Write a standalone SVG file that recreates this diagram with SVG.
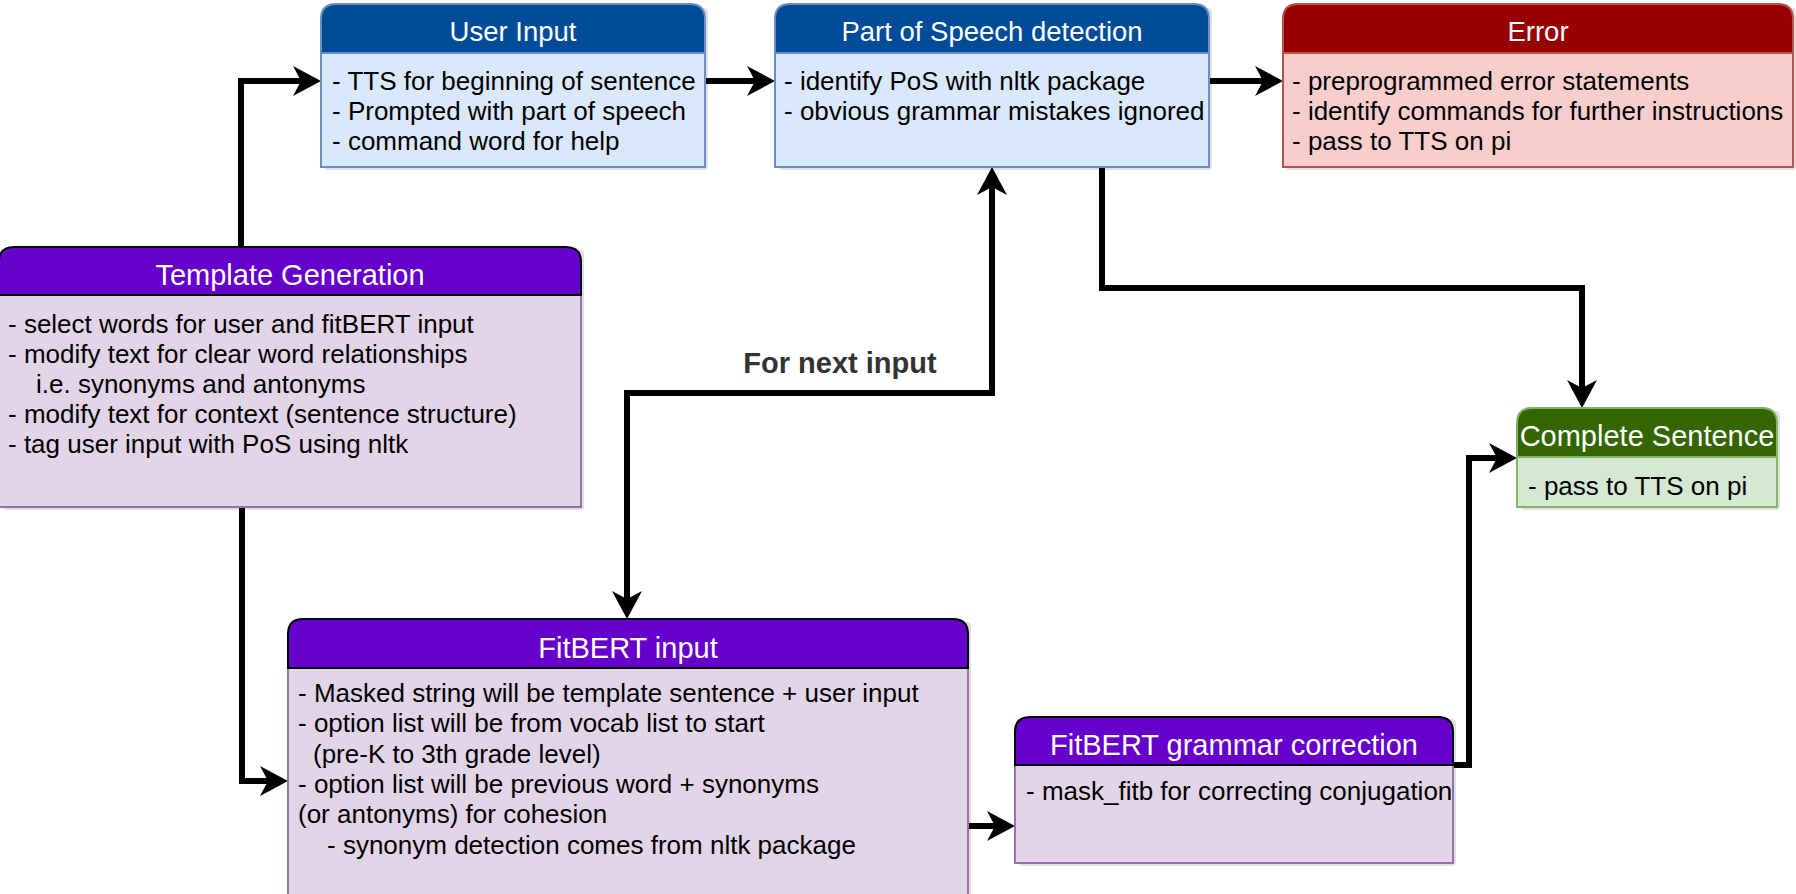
<svg xmlns="http://www.w3.org/2000/svg" width="1796" height="894" viewBox="0 0 1796 894">
<style>
text{font-family:"Liberation Sans",Arial,Helvetica,sans-serif}
.title{font-size:27.5px;fill:#fff;text-anchor:middle}
.title2{font-size:29px;fill:#fff;text-anchor:middle}
.body{font-size:26px;fill:#000}
.lbl{font-size:29px;font-weight:bold;fill:#333;text-anchor:middle}
.shadow{fill:#000;opacity:0.12}
.blueH{fill:#004C99;stroke:#6c8ebf;stroke-width:2}
.blueB{fill:#dae8fc;stroke:#6c8ebf;stroke-width:2}
.redH{fill:#990000;stroke:#b85450;stroke-width:2}
.redB{fill:#f8cecc;stroke:#b85450;stroke-width:2}
.purH{fill:#6600CC;stroke:#000;stroke-width:2}
.purB{fill:#e1d5e7;stroke:#9673a6;stroke-width:2}
.grnH{fill:#336600;stroke:#82b366;stroke-width:2}
.grnB{fill:#d5e8d4;stroke:#82b366;stroke-width:2}
.conn{fill:none;stroke:#000;stroke-width:6;stroke-linejoin:miter;stroke-linecap:butt}
</style>
<defs>
<marker id="arr" markerUnits="userSpaceOnUse" markerWidth="30" markerHeight="32" refX="8" refY="0" orient="auto" overflow="visible">
<path d="M28,0 L0,-15 L8,0 L0,15 Z" fill="#000"/>
</marker>
<marker id="arrS" markerUnits="userSpaceOnUse" markerWidth="30" markerHeight="32" refX="8" refY="0" orient="auto-start-reverse" overflow="visible">
<path d="M28,0 L0,-15 L8,0 L0,15 Z" fill="#000"/>
</marker>
</defs>

<g id="connectors">
<path class="conn" d="M241,247 V81 H301" marker-end="url(#arr)"/>
<path class="conn" d="M705,81 H755" marker-end="url(#arr)"/>
<path class="conn" d="M1209,81 H1263" marker-end="url(#arr)"/>
<path class="conn" d="M1102,167 V288 H1582 V388" marker-end="url(#arr)"/>
<path class="conn" d="M627,599 V393 H992 V187" marker-start="url(#arrS)" marker-end="url(#arr)"/>
<path class="conn" d="M242,507 V781 H268" marker-end="url(#arr)"/>
<path class="conn" d="M968,826 H995" marker-end="url(#arr)"/>
<path class="conn" d="M1453,765 H1469 V458 H1497" marker-end="url(#arr)"/>
<text class="lbl" x="840" y="373">For next input</text>
</g>

<g id="user-input">
<rect class="shadow" x="324" y="8" width="384" height="162" rx="4"/>
<rect class="blueB" x="321" y="53" width="384" height="114"/>
<path class="blueH" d="M321,53 V19 Q321,4 336,4 H690 Q705,4 705,19 V53 Z"/>
<text class="title" x="513" y="41">User Input</text>
<text class="body" x="332" y="90">- TTS for beginning of sentence</text>
<text class="body" x="332" y="120">- Prompted with part of speech</text>
<text class="body" x="332" y="150">- command word for help</text>
</g>

<g id="pos-detection">
<rect class="shadow" x="778" y="8" width="434" height="162" rx="4"/>
<rect class="blueB" x="775" y="53" width="434" height="114"/>
<path class="blueH" d="M775,53 V19 Q775,4 790,4 H1194 Q1209,4 1209,19 V53 Z"/>
<text class="title" x="992" y="41">Part of Speech detection</text>
<text class="body" x="784" y="90">- identify PoS with nltk package</text>
<text class="body" x="784" y="120">- obvious grammar mistakes ignored</text>
</g>

<g id="error">
<rect class="shadow" x="1286" y="8" width="510" height="162" rx="4"/>
<rect class="redB" x="1283" y="53" width="510" height="114"/>
<path class="redH" d="M1283,53 V19 Q1283,4 1298,4 H1778 Q1793,4 1793,19 V53 Z"/>
<text class="title" x="1538" y="41">Error</text>
<text class="body" x="1292" y="90">- preprogrammed error statements</text>
<text class="body" x="1292" y="120">- identify commands for further instructions</text>
<text class="body" x="1292" y="150">- pass to TTS on pi</text>
</g>

<g id="template-generation">
<rect class="shadow" x="2" y="250" width="582" height="260" rx="4"/>
<rect class="purB" x="-1" y="295" width="582" height="212"/>
<path class="purH" d="M-1,295 V262 Q-1,247 14,247 H566 Q581,247 581,262 V295 Z"/>
<text class="title2" x="290" y="285">Template Generation</text>
<text class="body" x="8" y="333">- select words for user and fitBERT input</text>
<text class="body" x="8" y="363">- modify text for clear word relationships</text>
<text class="body" x="36" y="393">i.e. synonyms and antonyms</text>
<text class="body" x="8" y="423">- modify text for context (sentence structure)</text>
<text class="body" x="8" y="453">- tag user input with PoS using nltk</text>
</g>

<g id="fitbert-input">
<rect class="shadow" x="291" y="622" width="680" height="290" rx="4"/>
<rect class="purB" x="288" y="668" width="680" height="240"/>
<path class="purH" d="M288,668 V634 Q288,619 303,619 H953 Q968,619 968,634 V668 Z"/>
<text class="title2" x="628" y="658">FitBERT input</text>
<text class="body" x="298" y="702">- Masked string will be template sentence + user input</text>
<text class="body" x="298" y="732">- option list will be from vocab list to start</text>
<text class="body" x="313" y="763">(pre-K to 3th grade level)</text>
<text class="body" x="298" y="793">- option list will be previous word + synonyms</text>
<text class="body" x="298" y="823">(or antonyms) for cohesion</text>
<text class="body" x="327" y="854">- synonym detection comes from nltk package</text>
</g>

<g id="fitbert-grammar">
<rect class="shadow" x="1018" y="719" width="438" height="147" rx="4"/>
<rect class="purB" x="1015" y="765" width="438" height="98"/>
<path class="purH" d="M1015,765 V732 Q1015,717 1030,717 H1438 Q1453,717 1453,732 V765 Z"/>
<text class="title2" x="1234" y="755">FitBERT grammar correction</text>
<text class="body" x="1026" y="800">- mask_fitb for correcting conjugation</text>
</g>

<g id="complete-sentence">
<rect class="shadow" x="1520" y="411" width="260" height="99" rx="4"/>
<rect class="grnB" x="1517" y="457" width="260" height="50"/>
<path class="grnH" d="M1517,457 V423 Q1517,408 1532,408 H1762 Q1777,408 1777,423 V457 Z"/>
<text class="title2" x="1647" y="446">Complete Sentence</text>
<text class="body" x="1528" y="495">- pass to TTS on pi</text>
</g>
</svg>
